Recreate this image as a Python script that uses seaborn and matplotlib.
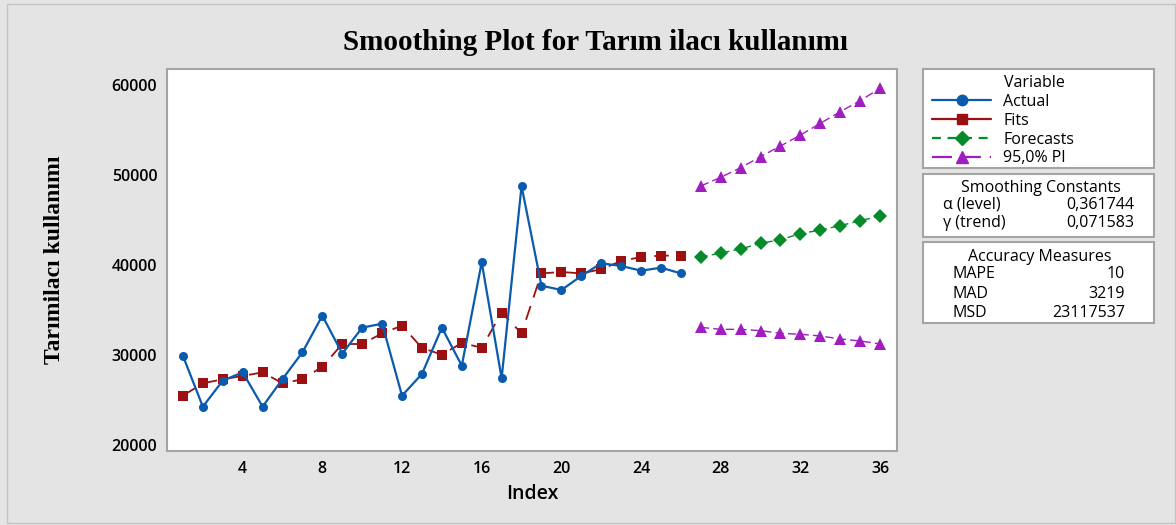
import numpy as np
import pandas as pd
import matplotlib
matplotlib.use("Agg")
import matplotlib.pyplot as plt
from matplotlib.lines import Line2D
from matplotlib.patches import Rectangle
import seaborn as sns

# data
actual = [29900, 24260, 27150, 28070, 24260, 27330, 30300, 34370, 30150, 33040,
          33480, 25480, 27890, 33040, 28810, 40300, 27410, 48780, 37700, 37220,
          38780, 40190, 39890, 39370, 39700, 39070]
fits = [25480, 26850, 27300, 27670, 28070, 26850, 27300, 28700, 31220, 31220,
        32410, 33260, 30780, 30040, 31330, 30810, 34700, 32410, 39070, 39220,
        39070, 39520, 40440, 40890, 41040, 41040]
forecasts = [40890, 41330, 41780, 42410, 42810, 43480, 43890, 44370, 44930, 45440]
pi_upper = [48780, 49740, 50810, 52040, 53220, 54440, 55740, 57040, 58260, 59630]
pi_lower = [33070, 32850, 32850, 32700, 32410, 32300, 32110, 31780, 31560, 31220]
idx_fit = list(range(1, 27))
idx_fc = list(range(27, 37))
x_ticks = [4, 8, 12, 16, 20, 24, 28, 32, 36]
y_ticks = [20000, 30000, 40000, 50000, 60000]

df_fit = pd.DataFrame({"Index": idx_fit, "Actual": actual, "Fits": fits})
df_fc = pd.DataFrame({"Index": idx_fc, "Forecasts": forecasts,
                      "Upper": pi_upper, "Lower": pi_lower})

c_act = "#0a5aae"
c_fit = "#9b1111"
c_fc = "#078a2a"
c_pi = "#a01ec0"
bg = "#e4e4e4"
edge = "#a4a4a4"

sns.set_style("white")
plt.rcParams["font.family"] = ["Open Sans", "DejaVu Sans"]
plt.rcParams["text.color"] = "black"
plt.rcParams["axes.labelcolor"] = "black"
plt.rcParams["xtick.labelcolor"] = "black"
plt.rcParams["ytick.labelcolor"] = "black"

fig = plt.figure(figsize=(11.76, 5.25), dpi=100, facecolor=bg)
ax = fig.add_axes([167 / 1176, 1 - 451 / 525, 730 / 1176, 382 / 525])
ax.set_facecolor("white")

sns.lineplot(data=df_fit, x="Index", y="Fits", ax=ax, color=c_fit, marker="s",
             markersize=7.5, markeredgewidth=0, linewidth=1.3, dashes=False,
             linestyle=(0, (8, 5)))
sns.lineplot(data=df_fit, x="Index", y="Actual", ax=ax, color=c_act, marker="o",
             markersize=6.5, markeredgewidth=0, linewidth=1.6)
sns.lineplot(data=df_fc, x="Index", y="Forecasts", ax=ax, color=c_fc, marker="D",
             markersize=7, markeredgewidth=0, linewidth=1.0, linestyle=(0, (5, 3)))
sns.lineplot(data=df_fc, x="Index", y="Upper", ax=ax, color=c_pi, marker="^",
             markersize=8.5, markeredgewidth=0, linewidth=1.0, linestyle=(0, (6, 3)))
sns.lineplot(data=df_fc, x="Index", y="Lower", ax=ax, color=c_pi, marker="^",
             markersize=8.5, markeredgewidth=0, linewidth=1.0, linestyle=(0, (6, 3)))

ax.set_xlim(0.2, 36.85)
ax.set_ylim(19330, 61780)
ax.set_xticks(x_ticks)
ax.set_yticks(y_ticks)
ax.tick_params(axis="both", direction="out", length=4, width=1, color=edge,
               labelsize=11.5, pad=3)
for lab in ax.get_xticklabels() + ax.get_yticklabels():
    lab.set_fontweight("semibold")
for s in ax.spines.values():
    s.set_color(edge)
    s.set_linewidth(1.5)

ax.set_xlabel("Index", fontsize=14, fontweight="semibold", labelpad=5)
ax.set_ylabel("Tarımilacı kullanımı", fontsize=17, fontweight="bold",
              family="Liberation Serif")
ax.yaxis.set_label_coords(-0.14, 0.5)

fig.text(595 / 1176, 1 - 43 / 525, "Smoothing Plot for Tarım ilacı kullanımı",
         ha="center", va="center", fontsize=21, fontweight="bold",
         family="Liberation Serif")

# outer frame
fig.patches.append(Rectangle((7 / 1176, 2 / 525), 1168 / 1176, 519 / 525,
                             transform=fig.transFigure, fill=False,
                             edgecolor="#c4c4c4", linewidth=1))


def box(top, bottom):
    x0, x1 = 923, 1154
    fig.patches.append(Rectangle((x0 / 1176, 1 - bottom / 525), (x1 - x0) / 1176,
                                 (bottom - top) / 525, transform=fig.transFigure,
                                 facecolor="white", edgecolor=edge, linewidth=1.5))


box(69, 168)
box(174, 237)
box(242, 323)

fs = 11.5

# legend
handles = [
    Line2D([], [], color=c_act, marker="o", markersize=7.5, linewidth=1.6),
    Line2D([], [], color=c_fit, marker="s", markersize=7.5, linewidth=1.6),
    Line2D([], [], color=c_fc, marker="D", markersize=7.5, linewidth=1.6, linestyle=(0, (4, 3))),
    Line2D([], [], color=c_pi, marker="^", markersize=9, linewidth=1.6, linestyle=(0, (9, 4))),
]
leg = fig.legend(handles, ["Actual", "Fits", "Forecasts", "95,0% PI"],
                 title="Variable", loc="upper left",
                 bbox_to_anchor=(932 / 1176, 1 - 75 / 525), frameon=False,
                 fontsize=fs, title_fontsize=fs, handlelength=3.7,
                 handletextpad=0.75, labelspacing=0.18, borderpad=0,
                 borderaxespad=0)
leg._legend_box.align = "left"
leg.get_title().set_position((72, 0))

fig.text(1041 / 1176, 1 - 188 / 525, "Smoothing Constants", ha="center", va="center", fontsize=fs)
fig.text(943 / 1176, 1 - 205 / 525, "α (level)", ha="left", va="center", fontsize=fs)
fig.text(1134 / 1176, 1 - 205 / 525, "0,361744", ha="right", va="center", fontsize=fs)
fig.text(943 / 1176, 1 - 223 / 525, "γ (trend)", ha="left", va="center", fontsize=fs)
fig.text(1134 / 1176, 1 - 223 / 525, "0,071583", ha="right", va="center", fontsize=fs)

fig.text(1040 / 1176, 1 - 257 / 525, "Accuracy Measures", ha="center", va="center", fontsize=fs)
rows = [("MAPE", "10"), ("MAD", "3219"), ("MSD", "23117537")]
for i, (k, v) in enumerate(rows):
    y = 274 + i * 19.5
    fig.text(952 / 1176, 1 - y / 525, k, ha="left", va="center", fontsize=fs)
    fig.text(1125 / 1176, 1 - y / 525, v, ha="right", va="center", fontsize=fs)

fig.savefig("out.png", dpi=100, facecolor=bg)
